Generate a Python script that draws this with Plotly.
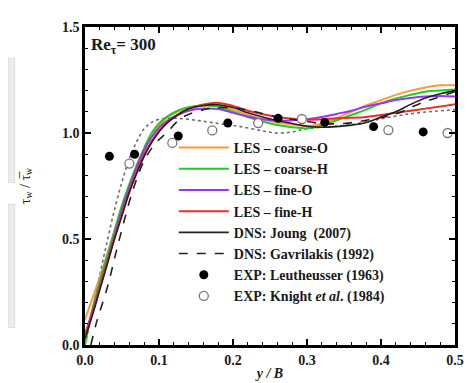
import plotly.graph_objects as go

# ---------------- data ----------------
x_les = [0, 0.01, 0.02, 0.03, 0.04, 0.05, 0.06, 0.07, 0.08, 0.09, 0.10, 0.11, 0.125, 0.14, 0.16,
         0.18, 0.20, 0.22, 0.24, 0.26, 0.28, 0.30, 0.32, 0.34, 0.36, 0.38, 0.40, 0.42, 0.44,
         0.46, 0.48, 0.50]
coarse_O = [0.12, 0.22, 0.32, 0.43, 0.54, 0.65, 0.75, 0.84, 0.92, 0.985, 1.035, 1.07, 1.10, 1.12, 1.13,
            1.128, 1.11, 1.085, 1.065, 1.05, 1.04, 1.033, 1.045, 1.07, 1.10, 1.13, 1.155, 1.18, 1.20,
            1.215, 1.225, 1.225]
coarse_H = [0.0, 0.17, 0.30, 0.42, 0.54, 0.66, 0.76, 0.85, 0.93, 1.0, 1.045, 1.075, 1.105, 1.122, 1.13,
            1.125, 1.10, 1.075, 1.055, 1.038, 1.027, 1.022, 1.035, 1.06, 1.085, 1.11, 1.14, 1.163, 1.18,
            1.195, 1.20, 1.205]
fine_O = [0.05, 0.16, 0.28, 0.40, 0.52, 0.64, 0.745, 0.84, 0.92, 0.98, 1.025, 1.055, 1.085, 1.105, 1.115,
          1.113, 1.095, 1.078, 1.065, 1.058, 1.06, 1.065, 1.075, 1.09, 1.105, 1.125, 1.14, 1.155, 1.165,
          1.172, 1.175, 1.172]
fine_H = [0.05, 0.15, 0.27, 0.39, 0.51, 0.62, 0.73, 0.82, 0.90, 0.96, 1.01, 1.045, 1.085, 1.115, 1.135,
          1.142, 1.128, 1.105, 1.088, 1.076, 1.067, 1.062, 1.065, 1.07, 1.072, 1.076, 1.085, 1.095, 1.105,
          1.115, 1.125, 1.136]
dns_joung = [0.03, 0.14, 0.26, 0.38, 0.50, 0.61, 0.72, 0.81, 0.89, 0.955, 1.005, 1.045, 1.085, 1.113, 1.13,
             1.133, 1.12, 1.095, 1.075, 1.058, 1.045, 1.032, 1.027, 1.03, 1.037, 1.05, 1.075, 1.10, 1.135,
             1.165, 1.185, 1.20]

x_gav = [0.008, 0.015, 0.03, 0.045, 0.065, 0.08, 0.095, 0.11, 0.13, 0.15, 0.17, 0.20, 0.23, 0.26,
         0.29, 0.32, 0.35, 0.38, 0.42, 0.45, 0.50]
dns_gav = [0.0, 0.10, 0.27, 0.48, 0.734, 0.87, 0.95, 1.0, 1.07, 1.10, 1.116, 1.12, 1.10, 1.075,
           1.06, 1.045, 1.045, 1.06, 1.09, 1.135, 1.195]

x_dot = [0, 0.01, 0.02, 0.03, 0.04, 0.05, 0.06, 0.07, 0.08, 0.09, 0.10, 0.12, 0.15, 0.18, 0.21,
         0.24, 0.26, 0.28, 0.30, 0.33, 0.36, 0.39, 0.42, 0.45, 0.50]
y_dot = [0.0, 0.16, 0.33, 0.49, 0.64, 0.77, 0.88, 0.96, 1.02, 1.05, 1.065, 1.07, 1.06, 1.045, 1.03,
         1.01, 1.0, 1.005, 1.02, 1.03, 1.04, 1.06, 1.08, 1.095, 1.11]

x_leut = [0.033, 0.067, 0.126, 0.193, 0.261, 0.324, 0.39, 0.457]
y_leut = [0.89, 0.90, 0.986, 1.047, 1.069, 1.05, 1.03, 1.005]
x_knight = [0.060, 0.118, 0.172, 0.234, 0.293, 0.41, 0.49]
y_knight = [0.856, 0.953, 1.012, 1.047, 1.066, 1.014, 1.0]

x_ticks = [0.0, 0.1, 0.2, 0.3, 0.4, 0.5]
y_ticks = [0.0, 0.5, 1.0, 1.5]

SERIF = "Liberation Serif, Times New Roman, serif"
TXT = "#1a1a1a"

fig = go.Figure()

fig.add_trace(go.Scatter(x=x_dot, y=y_dot, mode="lines", showlegend=False, line_shape="spline",
                         line=dict(color="#6e6e6e", width=1.6, dash="dot"), hoverinfo="skip"))
les = [("LES – coarse-O", coarse_O, "#FF9933"),
       ("LES – coarse-H", coarse_H, "#22CC22"),
       ("LES – fine-O", fine_O, "#9933FF"),
       ("LES – fine-H", fine_H, "#E8302A")]
for name, ys, col in les:
    fig.add_trace(go.Scatter(x=x_les, y=ys, mode="lines", name=name, line_shape="spline",
                             line=dict(color=col, width=2)))
fig.add_trace(go.Scatter(x=x_les, y=dns_joung, mode="lines", name="DNS: Joung  (2007)", line_shape="spline",
                         line=dict(color="#222222", width=1.6)))
fig.add_trace(go.Scatter(x=x_gav, y=dns_gav, mode="lines", name="DNS: Gavrilakis (1992)", line_shape="spline",
                         line=dict(color="#222222", width=1.6, dash="dash")))
fig.add_trace(go.Scatter(x=x_leut, y=y_leut, mode="markers", name="EXP: Leutheusser (1963)",
                         marker=dict(color="black", size=9)))
fig.add_trace(go.Scatter(x=x_knight, y=y_knight, mode="markers", name="EXP: Knight <i>et al</i>. (1984)",
                         marker=dict(color="white", size=9, line=dict(color="#777777", width=1.3))))

axis_common = dict(showline=True, linecolor="black", linewidth=2.5, mirror="ticks", ticks="inside",
                   ticklen=6, tickwidth=2, tickcolor="black", showgrid=False, zeroline=False,
                   tickfont=dict(family=SERIF, size=14, color=TXT, weight="bold"))

fig.update_xaxes(range=[0, 0.5], tickvals=x_ticks, tickformat=".1f",
                 minor=dict(dtick=0.02, ticks="inside", ticklen=3, tickcolor="black", tickwidth=1),
                 title=dict(text="<i>y / B</i>", font=dict(family=SERIF, size=14, color=TXT, weight="bold"),
                            standoff=2),
                 **axis_common)
fig.update_yaxes(range=[0, 1.5], tickvals=y_ticks, tickformat=".1f",
                 minor=dict(dtick=0.1, ticks="inside", ticklen=3, tickcolor="black", tickwidth=1),
                 title=dict(text="τ<sub>w</sub> / τ̅<sub>w</sub>", font=dict(family=SERIF, size=14, color=TXT),
                            standoff=29),
                 **axis_common)

fig.add_annotation(x=0.006, y=1.41, xref="x", yref="y", xanchor="left", yanchor="middle",
                   text="Re<sub>τ</sub>= 300", showarrow=False,
                   font=dict(family=SERIF, size=17, color=TXT, weight="bold"))

# faint clipped image remnants at the left edge
for y0, y1 in [(0.511, 0.902), (0.055, 0.443)]:
    fig.add_shape(type="rect", xref="paper", yref="paper", x0=-0.208, x1=-0.19, y0=y0, y1=y1,
                  fillcolor="#ececec", line=dict(color="#d0d0d0", width=0.6), layer="below")

fig.update_layout(
    width=472, height=383,
    margin=dict(l=77, r=25, t=13, b=43),
    paper_bgcolor="white", plot_bgcolor="white",
    showlegend=True,
    legend=dict(x=0.24, y=0.67, xanchor="left", yanchor="top", bgcolor="rgba(255,255,255,0)",
                font=dict(family=SERIF, size=14, color=TXT, weight="bold"), tracegroupgap=0,
                itemwidth=50),
)

fig.write_html("out.html")
